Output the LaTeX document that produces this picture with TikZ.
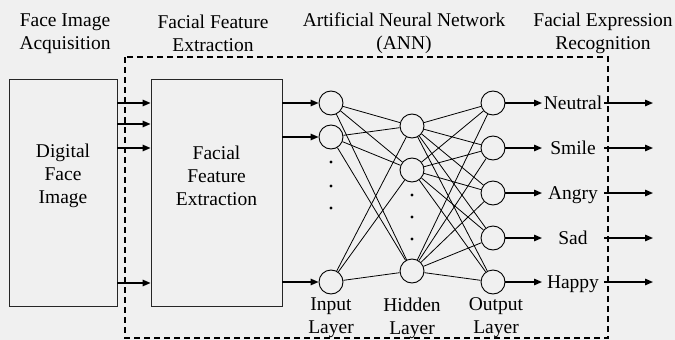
\documentclass[tikz,border=0pt]{standalone}
\usepackage{fontspec}
\setmainfont{Liberation Serif}
\usetikzlibrary{arrows.meta}
\definecolor{paper}{HTML}{F0F0F0}
\begin{document}
\begin{tikzpicture}[x=1pt,y=-1pt,
  every node/.style={font=\fontsize{19.5}{23}\selectfont},
  title/.style={align=center, inner sep=0pt},
  block/.style={draw=black!85, line width=0.9pt, inner sep=0pt},
  neuron/.style={circle, draw, line width=0.9pt, minimum size=24pt, inner sep=0pt},
  arr/.style={line width=1.4pt, -{Triangle[length=8pt,width=6.5pt]}},
  link/.style={line width=0.8pt},
  outlbl/.style={anchor=base, inner sep=0pt},
  dot/.style={circle, fill, inner sep=0pt, minimum size=3.4pt}
]
% canvas
\fill[paper] (0,0) rectangle (675,340);
\useasboundingbox (0,0) rectangle (675,340);

% stage titles
\node[title] (tAcq) at (65,33.5)  {Face Image\\Acquisition};
\node[title] (tFex) at (213,33.5) {Facial Feature\\Extraction};
\node[title] (tAnn) at (404,33.5) {Artificial Neural Network\\(ANN)};
\node[title] (tRec) at (603,33.5) {Facial Expression\\Recognition};

% system boundary
\draw[line width=1.2pt, dash pattern=on 6pt off 4pt] (125,57) rectangle (608,338);

% processing blocks
\node[block, minimum width=108pt, minimum height=227pt] (img) at (63,192.5) {};
\node[block, minimum width=131pt, minimum height=227pt] (fex) at (216.5,192.5) {};
\node[title] (imgT) at (63,175.5) {Digital\\Face\\Image};
\node[title] (fexT) at (216.5,175.5) {Facial\\Feature\\Extraction};

% input layer
\node[neuron] (i1) at (331,103) {};
\node[neuron] (i2) at (331,137) {};
\node[neuron] (i3) at (331,282) {};
\node[dot] (di1) at (331,162) {};
\node[dot] (di2) at (331,186) {};
\node[dot] (di3) at (331,208) {};

% hidden layer
\node[neuron] (h1) at (412,126) {};
\node[neuron] (h2) at (412,170) {};
\node[neuron] (h3) at (412,271) {};
\node[dot] (dh1) at (412,195) {};
\node[dot] (dh2) at (412,217) {};
\node[dot] (dh3) at (412,239) {};

% output layer
\node[neuron] (o1) at (493,103) {};
\node[neuron] (o2) at (493,148) {};
\node[neuron] (o3) at (493,193) {};
\node[neuron] (o4) at (493,238) {};
\node[neuron] (o5) at (493,282) {};

% layer captions
\node[title] (lIn)  at (331,318) {Input\\Layer};
\node[title] (lHid) at (412,318) {Hidden\\Layer};
\node[title] (lOut) at (496,318) {Output\\Layer};

% weights
\foreach \a in {i1,i2,i3}
  \foreach \b in {h1,h2,h3}
    \draw[link] (\a) -- (\b);
\foreach \a in {h1,h2,h3}
  \foreach \b in {o1,o2,o3,o4,o5}
    \draw[link] (\a) -- (\b);

% image -> feature extraction
\coordinate (a1) at (117,103);
\coordinate (a2) at (117,124);
\coordinate (a3) at (117,148);
\coordinate (a4) at (117,283);
\foreach \k in {a1,a2,a3,a4}
  \draw[arr] (\k) -- (fex.west |- \k);

% feature extraction -> input layer
\draw[arr] (fex.east |- i1) -- (i1.west);
\draw[arr] (fex.east |- i2) -- (i2.west);
\draw[arr] (fex.east |- i3) -- (i3.west);

% output layer -> expressions
\foreach \n/\y/\txt in {1/103/Neutral, 2/148/Smile, 3/193/Angry, 4/238/Sad, 5/282/Happy}{
  \coordinate (e\n) at (542,\y);
  \node[outlbl] (x\n) at (573,\y+6.5) {\txt};
  \coordinate (s\n) at (604,\y);
  \coordinate (t\n) at (653,\y);
  \draw[arr] (o\n.east) -- (e\n);
  \draw[arr] (s\n) -- (t\n);
}
\end{tikzpicture}
\end{document}
